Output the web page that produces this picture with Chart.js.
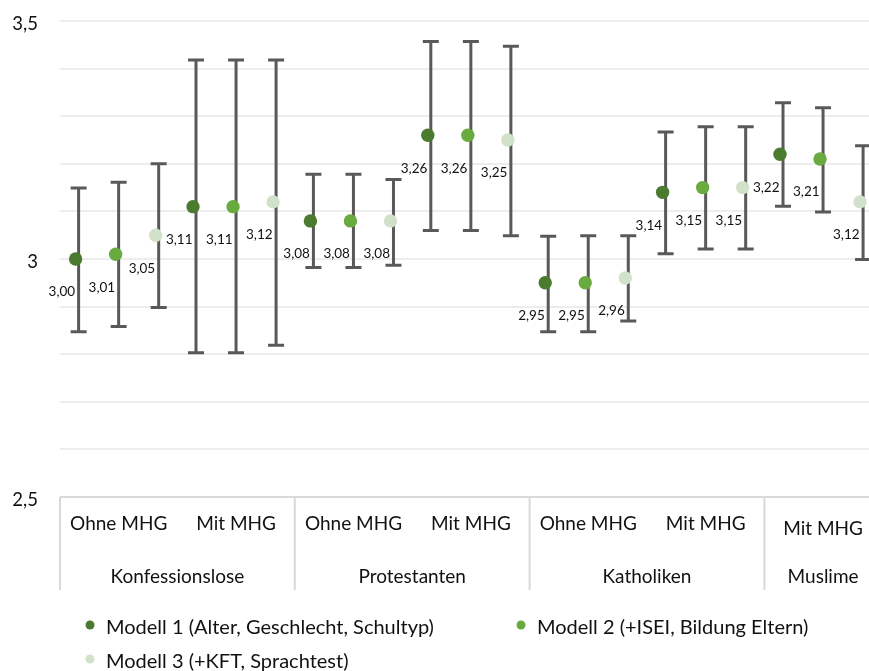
<!DOCTYPE html>
<html lang="de">
<head>
<meta charset="utf-8">
<title>Modellvergleich nach Konfession und Migrationshintergrund</title>
<script src="https://cdn.jsdelivr.net/npm/chart.js@4.4.1/dist/chart.umd.min.js"></script>
<style>
  html, body { margin: 0; padding: 0; background: #ffffff; overflow: hidden; }
  canvas { display: block; }
</style>
</head>
<body>
<canvas id="chart" width="869" height="671"></canvas>
<script>
// Kategorien (untere Achse, zweistufig)
const categories = ['Ohne MHG', 'Mit MHG', 'Ohne MHG', 'Mit MHG', 'Ohne MHG', 'Mit MHG', 'Mit MHG'];
const groupNames = ['Konfessionslose', 'Protestanten', 'Katholiken', 'Muslime'];
const groupSizes = [2, 2, 2, 1];

// Modellnamen
const seriesNames = [
  'Modell 1 (Alter, Geschlecht, Schultyp)',
  'Modell 2 (+ISEI, Bildung Eltern)',
  'Modell 3 (+KFT, Sprachtest)'
];

// Geschätzte Mittelwerte
const modell1 = [3.00, 3.11, 3.08, 3.26, 2.95, 3.14, 3.22];
const modell2 = [3.01, 3.11, 3.08, 3.26, 2.95, 3.15, 3.21];
const modell3 = [3.05, 3.12, 3.08, 3.25, 2.96, 3.15, 3.12];

// Konfidenzintervalle: untere und obere Grenze
const modell1Lower = [2.847, 2.803, 2.982, 3.060, 2.847, 3.011, 3.111];
const modell1Upper = [3.149, 3.418, 3.178, 3.457, 3.048, 3.267, 3.328];
const modell2Lower = [2.858, 2.803, 2.982, 3.060, 2.847, 3.021, 3.099];
const modell2Upper = [3.161, 3.418, 3.178, 3.457, 3.049, 3.278, 3.318];
const modell3Lower = [2.898, 2.819, 2.987, 3.049, 2.870, 3.021, 2.999];
const modell3Upper = [3.200, 3.418, 3.167, 3.447, 3.049, 3.278, 3.238];

// Beschriftete Werte der y-Achse
const yTickValues = [2.5, 3, 3.5];
const yTickLabels = ['2,5', '3', '3,5'];

// Darstellung
const FONT = 'Lato, "Open Sans", sans-serif';
const TEXT = '#111111';
const colors = ['#4b7b2e', '#6aab40', '#d2e2ca'];
const pointOffsets = [-0.367, -0.026, 0.315];

const values = [modell1, modell2, modell3];
const lowers = [modell1Lower, modell2Lower, modell3Lower];
const uppers = [modell1Upper, modell2Upper, modell3Upper];

const fmt = v => v.toFixed(2).replace('.', ',');

const datasets = values.map((vals, s) => ({
  label: seriesNames[s],
  data: vals.map((v, i) => ({ x: i + pointOffsets[s], y: v })),
  backgroundColor: colors[s],
  borderColor: colors[s],
  borderWidth: 0,
  pointRadius: 6.7,
  pointHoverRadius: 6.7,
  showLine: false
}));

// Fehlerbalken (unter den Punkten)
const errorBars = {
  id: 'errorBars',
  beforeDatasetsDraw(chart) {
    const ctx = chart.ctx;
    const y = chart.scales.y;
    ctx.save();
    ctx.strokeStyle = '#595959';
    ctx.lineWidth = 3;
    ctx.lineCap = 'butt';
    chart.data.datasets.forEach((ds, s) => {
      const meta = chart.getDatasetMeta(s);
      meta.data.forEach((el, i) => {
        const x = el.x + 3;
        const top = y.getPixelForValue(uppers[s][i]);
        const bot = y.getPixelForValue(lowers[s][i]);
        ctx.beginPath();
        ctx.moveTo(x, top);
        ctx.lineTo(x, bot);
        ctx.moveTo(x - 8, top);
        ctx.lineTo(x + 8, top);
        ctx.moveTo(x - 8, bot);
        ctx.lineTo(x + 8, bot);
        ctx.stroke();
      });
    });
    ctx.restore();
  }
};

// Wertebeschriftungen
const valueLabels = {
  id: 'valueLabels',
  afterDatasetsDraw(chart) {
    const ctx = chart.ctx;
    ctx.save();
    ctx.font = '13.5px ' + FONT;
    ctx.fillStyle = TEXT;
    ctx.textAlign = 'right';
    ctx.textBaseline = 'middle';
    chart.data.datasets.forEach((ds, s) => {
      const meta = chart.getDatasetMeta(s);
      meta.data.forEach((el, i) => {
        ctx.fillText(fmt(values[s][i]), el.x - 0.5, el.y + 33);
      });
    });
    ctx.restore();
  }
};

// Zweistufige Kategorienachse und Legende
const axisAndLegend = {
  id: 'axisAndLegend',
  afterDraw(chart) {
    const ctx = chart.ctx;
    const xs = chart.scales.x;
    const area = chart.chartArea;
    ctx.save();

    // Trennlinien zwischen den Gruppen
    ctx.strokeStyle = '#d9d9d9';
    ctx.lineWidth = 2;
    let start = 0;
    const bounds = [];
    groupSizes.forEach(n => { bounds.push([start, start + n]); start += n; });
    bounds.forEach(([a]) => {
      const px = xs.getPixelForValue(a - 0.5);
      ctx.beginPath();
      ctx.moveTo(px, area.bottom);
      ctx.lineTo(px, area.bottom + 93);
      ctx.stroke();
    });

    // Unterkategorien
    ctx.fillStyle = TEXT;
    ctx.textAlign = 'center';
    ctx.textBaseline = 'middle';
    ctx.font = '19px ' + FONT;
    categories.forEach((c, i) => {
      const single = groupSizes[groupSizes.length - 1] === 1 && i === categories.length - 1;
      ctx.fillText(c, xs.getPixelForValue(i), area.bottom + (single ? 32 : 27));
    });

    // Gruppen
    bounds.forEach(([a, b], g) => {
      const cx = xs.getPixelForValue((a + b - 1) / 2);
      ctx.fillText(groupNames[g], cx, area.bottom + 80);
    });

    // Legende
    const legendPos = [[90, 625], [521, 625], [90, 659]];
    ctx.textAlign = 'left';
    ctx.font = '20px ' + FONT;
    seriesNames.forEach((name, s) => {
      const [lx, ly] = legendPos[s];
      ctx.fillStyle = colors[s];
      ctx.beginPath();
      ctx.arc(lx, ly, 4.5, 0, Math.PI * 2);
      ctx.fill();
      ctx.fillStyle = TEXT;
      ctx.fillText(name, lx + 16, ly + 3);
    });

    ctx.restore();
  }
};

new Chart(document.getElementById('chart'), {
  type: 'scatter',
  data: { datasets },
  plugins: [errorBars, valueLabels, axisAndLegend],
  options: {
    responsive: false,
    animation: false,
    devicePixelRatio: 1,
    layout: { autoPadding: false, padding: { top: 21, bottom: 174, left: 0, right: 0 } },
    plugins: {
      legend: { display: false },
      tooltip: { enabled: false }
    },
    scales: {
      x: {
        type: 'linear',
        min: -0.5,
        max: 6.391,
        display: false
      },
      y: {
        min: 2.5,
        max: 3.5,
        afterFit(scale) {
          scale.width = 60;
          scale.paddingTop = 0;
          scale.paddingBottom = 0;
        },
        ticks: {
          stepSize: 0.1,
          padding: 22,
          labelOffset: 3,
          color: TEXT,
          font: { family: FONT, size: 18.5 },
          callback(value) {
            const k = yTickValues.findIndex(t => Math.abs(t - value) < 1e-6);
            return k >= 0 ? yTickLabels[k] : '';
          }
        },
        grid: {
          drawTicks: false,
          lineWidth: 2,
          color(ctx) {
            return Math.abs(ctx.tick.value - 2.5) < 1e-6 ? '#d9d9d9' : '#ededed';
          }
        },
        border: { display: false }
      }
    }
  }
});
</script>
</body>
</html>
